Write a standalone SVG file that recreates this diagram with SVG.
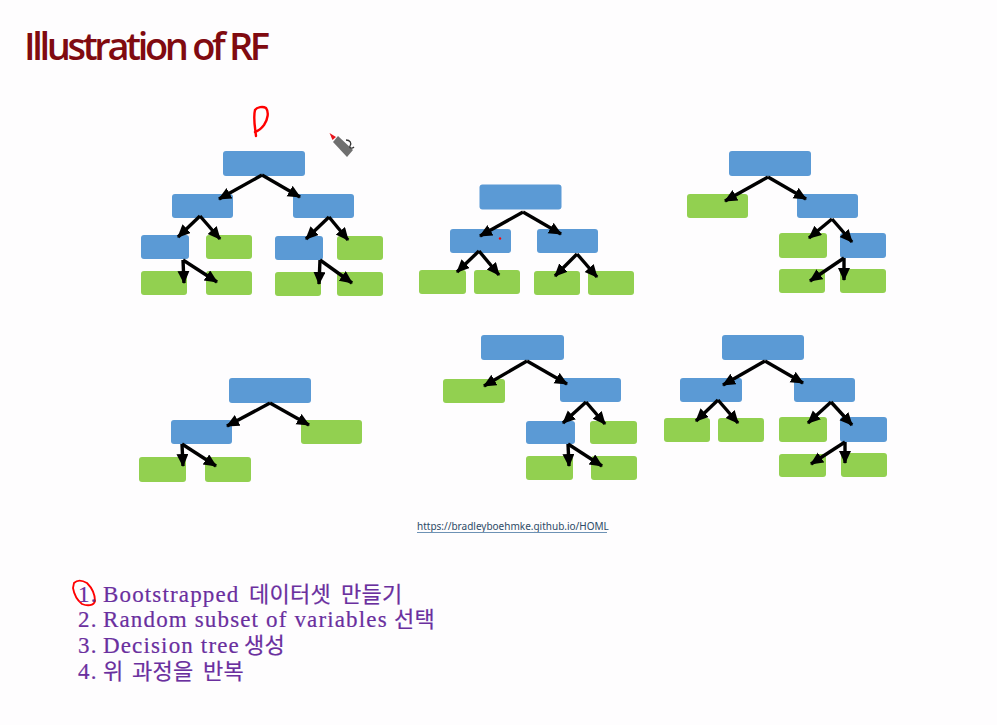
<svg xmlns="http://www.w3.org/2000/svg" width="997" height="725" viewBox="0 0 997 725">
<style>
.b{fill:#5b9ad5}.g{fill:#92d050}
.c{fill:none;stroke:#000;stroke-width:3.400;marker-end:url(#a)}
.l{font-family:"Liberation Serif","Noto Sans CJK KR",serif;font-size:23px;fill:#6a2f9e;letter-spacing:1.15px;stroke:#6a2f9e;stroke-width:.2px}
.k{font-size:22px;letter-spacing:.3px}
.r{fill:none;stroke:#f00;stroke-width:2.400;stroke-linecap:round;stroke-linejoin:round}
</style>
<defs><marker id="a" markerUnits="userSpaceOnUse" markerWidth="15" markerHeight="13" refX="12" refY="6" orient="auto"><path d="M0 0L13 6L0 12z"/></marker></defs>
<rect width="997" height="725" fill="#fefdfe"/>
<text x="24" y="60" font-family="'Open Sans',sans-serif" font-size="38" font-weight="600" letter-spacing="-3.350" fill="#800a10">Illustration of RF</text>
<g id="tree1">
<g id="t1n1"><rect class="b" x="223" y="151" width="82" height="25" rx="3"/></g>
<g id="t1n2"><rect class="b" x="172" y="194" width="61" height="24" rx="3"/></g>
<g id="t1n3"><rect class="b" x="293" y="194" width="61" height="24" rx="3"/></g>
<g id="t1n4"><rect class="b" x="141" y="235" width="48" height="24" rx="3"/></g>
<g id="t1n5"><rect class="g" x="206" y="235" width="46" height="24" rx="3"/></g>
<g id="t1n6"><rect class="b" x="275" y="236" width="48" height="24" rx="3"/></g>
<g id="t1n7"><rect class="g" x="337" y="236" width="46" height="24" rx="3"/></g>
<g id="t1n8"><rect class="g" x="141" y="271" width="46" height="24" rx="3"/></g>
<g id="t1n9"><rect class="g" x="206" y="271" width="46" height="24" rx="3"/></g>
<g id="t1n10"><rect class="g" x="275" y="272" width="46" height="24" rx="3"/></g>
<g id="t1n11"><rect class="g" x="337" y="272" width="46" height="24" rx="3"/></g>
</g>
<g id="tree2">
<g id="t2n1"><rect class="b" x="479.500" y="184.500" width="82" height="25" rx="3"/></g>
<g id="t2n2"><rect class="b" x="450" y="229" width="61" height="24" rx="3"/></g>
<g id="t2n3"><rect class="b" x="537" y="229" width="61" height="24" rx="3"/></g>
<g id="t2n4"><rect class="g" x="419" y="270" width="47" height="24" rx="3"/></g>
<g id="t2n5"><rect class="g" x="474" y="270" width="46" height="24" rx="3"/></g>
<g id="t2n6"><rect class="g" x="534" y="271" width="46" height="24" rx="3"/></g>
<g id="t2n7"><rect class="g" x="588" y="271" width="46" height="24" rx="3"/></g>
</g>
<g id="tree3">
<g id="t3n1"><rect class="b" x="729" y="151" width="82" height="25" rx="3"/></g>
<g id="t3n2"><rect class="g" x="687" y="194" width="61" height="24" rx="3"/></g>
<g id="t3n3"><rect class="b" x="797" y="194" width="61" height="24" rx="3"/></g>
<g id="t3n4"><rect class="g" x="779" y="233" width="48" height="25" rx="3"/></g>
<g id="t3n5"><rect class="b" x="840" y="233" width="46" height="25" rx="3"/></g>
<g id="t3n6"><rect class="g" x="779" y="269" width="46" height="24" rx="3"/></g>
<g id="t3n7"><rect class="g" x="840" y="269" width="46" height="24" rx="3"/></g>
</g>
<g id="tree4">
<g id="t4n1"><rect class="b" x="229" y="378" width="82" height="25" rx="3"/></g>
<g id="t4n2"><rect class="b" x="171" y="420" width="61" height="24" rx="3"/></g>
<g id="t4n3"><rect class="g" x="301" y="420" width="61" height="24" rx="3"/></g>
<g id="t4n4"><rect class="g" x="139" y="457" width="47" height="25" rx="3"/></g>
<g id="t4n5"><rect class="g" x="205" y="457" width="46" height="25" rx="3"/></g>
</g>
<g id="tree5">
<g id="t5n1"><rect class="b" x="481" y="335" width="83" height="25" rx="3"/></g>
<g id="t5n2"><rect class="g" x="443" y="379" width="62" height="24" rx="3"/></g>
<g id="t5n3"><rect class="b" x="560" y="378" width="61" height="24" rx="3"/></g>
<g id="t5n4"><rect class="b" x="526" y="421" width="49" height="23" rx="3"/></g>
<g id="t5n5"><rect class="g" x="590" y="421" width="47" height="23" rx="3"/></g>
<g id="t5n6"><rect class="g" x="526" y="456" width="47" height="24" rx="3"/></g>
<g id="t5n7"><rect class="g" x="591" y="456" width="46" height="24" rx="3"/></g>
</g>
<g id="tree6">
<g id="t6n1"><rect class="b" x="722" y="335" width="82" height="25" rx="3"/></g>
<g id="t6n2"><rect class="b" x="680" y="378" width="62" height="24" rx="3"/></g>
<g id="t6n3"><rect class="b" x="794" y="378" width="61" height="24" rx="3"/></g>
<g id="t6n4"><rect class="g" x="664" y="418" width="46" height="24" rx="3"/></g>
<g id="t6n5"><rect class="g" x="718" y="418" width="46" height="24" rx="3"/></g>
<g id="t6n6"><rect class="g" x="779" y="417" width="48" height="25" rx="3"/></g>
<g id="t6n7"><rect class="b" x="840" y="417" width="47" height="25" rx="3"/></g>
<g id="t6n8"><rect class="g" x="779" y="454" width="47" height="23" rx="3"/></g>
<g id="t6n9"><rect class="g" x="841" y="453" width="46" height="24" rx="3"/></g>
</g>
<g id="connectors">
<path class="c" d="M262 175L219 199"/><path class="c" d="M262 175L300 197"/><path class="c" d="M200 216L178 237"/><path class="c" d="M200 216L220 239"/><path class="c" d="M329 217L306 239"/><path class="c" d="M329 217L348 240"/><path class="c" d="M183 260L184 283"/><path class="c" d="M183 260L217 282"/><path class="c" d="M320 260L319 284"/><path class="c" d="M320 260L352 283"/>
<path class="c" d="M523 212L480 236"/><path class="c" d="M523 212L561 234"/><path class="c" d="M479 251L457 272"/><path class="c" d="M479 251L499 275"/><path class="c" d="M577 254L555 276"/><path class="c" d="M577 254L597 277"/>
<path class="c" d="M768 177L725 201"/><path class="c" d="M768 177L806 199"/><path class="c" d="M832 219L809 238"/><path class="c" d="M832 219L852 242"/><path class="c" d="M844 258L844 280"/><path class="c" d="M844 258L810 281"/>
<path class="c" d="M270 403L227 426"/><path class="c" d="M270 403L309 425"/><path class="c" d="M182 444L183 466"/><path class="c" d="M182 444L216 466"/>
<path class="c" d="M527 361L484 386"/><path class="c" d="M527 361L567 384"/><path class="c" d="M586 402L563 423"/><path class="c" d="M586 402L605 424"/><path class="c" d="M568 444L569 466"/><path class="c" d="M568 444L602 466"/>
<path class="c" d="M765 361L723 385"/><path class="c" d="M765 361L803 383"/><path class="c" d="M718 400L696 421"/><path class="c" d="M718 400L738 423"/><path class="c" d="M831 402L808 423"/><path class="c" d="M831 402L852 425"/><path class="c" d="M845 442L811 464"/><path class="c" d="M845 442L845 463"/>
</g>
<g id="annotations">
<path class="r" d="M256 136C255 127 253 118 255 110C257 107 263 106 266 108C269 112 268 119 264 125C261 129 258 131 255 132"/>
<circle cx="500" cy="238.500" r="1.200" fill="#f00"/>
<path class="r" style="stroke-width:1.800" d="M74 583C77 580 82 580 87 583C92 588 95 594 95 601C94 606 87 606 82 604C77 600 74 594 73 588Z"/>
<path d="M329.500 133L336 137L332.500 140Z" fill="#e8141c"/>
<path d="M333 142L338 136L353 150L347 157Z" fill="#6f6f6f"/>
<path d="M346 140C350 140 352 143 350 146C349 148 352 149 354 147" fill="none" stroke="#333" stroke-width="1.300"/>
</g>
<text x="417" y="530" font-family="'Noto Sans',sans-serif" font-size="10" fill="#2d4a66">https://bradleyboehmke.github.io/HOML</text>
<rect x="417" y="532" width="190" height="1" fill="#6d92b5"/>
<text class="l" y="602"><tspan x="78">1.</tspan><tspan x="103">Bootstrapped</tspan><tspan x="249" class="k">데이터셋</tspan><tspan x="341" class="k">만들기</tspan></text>
<text class="l" y="627"><tspan x="78">2.</tspan><tspan x="103">Random subset of variables</tspan><tspan x="394" class="k">선택</tspan></text>
<text class="l" y="653"><tspan x="78">3.</tspan><tspan x="103">Decision tree</tspan><tspan x="244" class="k">생성</tspan></text>
<text class="l" y="679"><tspan x="78">4.</tspan><tspan x="103" class="k">위</tspan><tspan x="132" class="k">과정을</tspan><tspan x="203" class="k">반복</tspan></text>
</svg>
